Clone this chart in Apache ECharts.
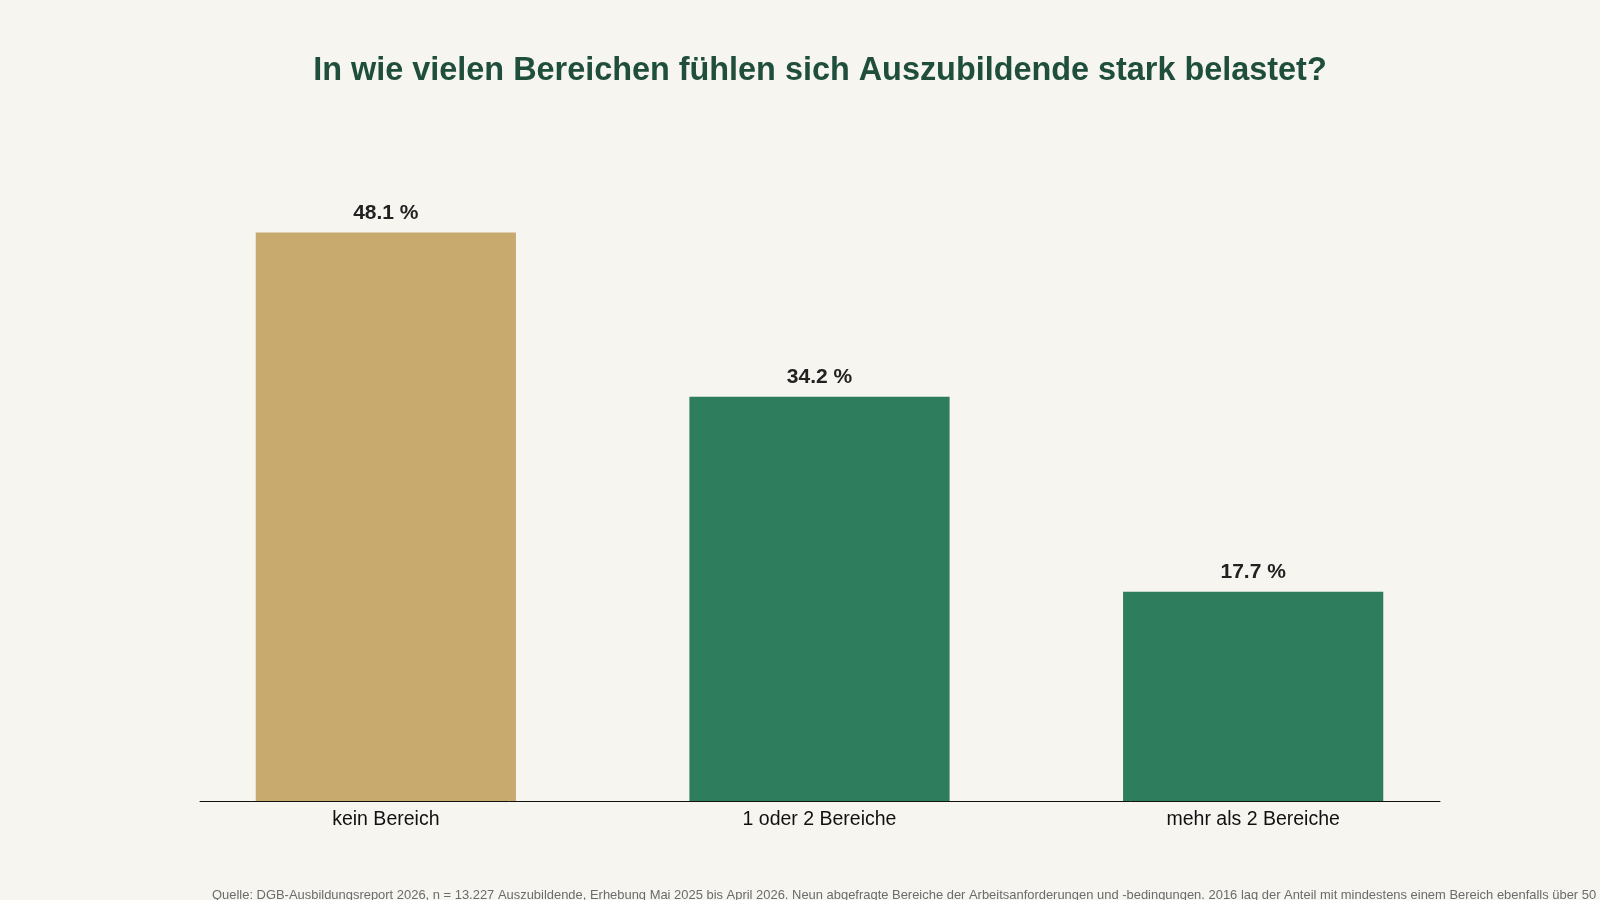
<!DOCTYPE html>
<html lang="de">
<head>
    <meta charset="UTF-8">
    <title>Belastung Auszubildende</title>
    <script src="https://cdn.jsdelivr.net/npm/echarts@6.0.0/dist/echarts.min.js"></script>
    <style>
        html, body {
            margin: 0;
            padding: 0;
            background: #f6f5f0;
        }
        #chart {
            width: 1600px;
            height: 900px;
        }
    </style>
</head>
<body>
    <div id="chart"></div>
    <script>
        var categories = ['kein Bereich', '1 oder 2 Bereiche', 'mehr als 2 Bereiche']
        var values = [48.1, 34.2, 17.7]
        var barColors = ['#c8a96e', '#2e7d5d', '#2e7d5d']

        var titleText = 'In wie vielen Bereichen fühlen sich Auszubildende stark belastet?'
        var sourceText = 'Quelle: DGB-Ausbildungsreport 2026, n = 13.227 Auszubildende, Erhebung Mai 2025 bis April 2026. Neun abgefragte Bereiche der Arbeitsanforderungen und -bedingungen. 2016 lag der Anteil mit mindestens einem Bereich ebenfalls über 50'

        var chart = echarts.init(document.getElementById('chart'))

        var barData = values.map(function (v, i) {
            return { value: v, itemStyle: { color: barColors[i] } }
        })

        // grid 0 holds the bars, grid 1 only draws the (shorter) baseline
        chart.setOption({
            backgroundColor: '#f6f5f0',
            textStyle: { fontFamily: 'Liberation Sans, Arial, sans-serif' },
            title: [
                {
                    text: titleText,
                    left: 815,
                    top: 50,
                    textAlign: 'center',
                    textStyle: {
                        color: '#1f4e3d',
                        fontSize: 32.4,
                        fontWeight: 'bold',
                        fontFamily: 'Liberation Sans, Arial, sans-serif'
                    }
                },
                {
                    text: sourceText,
                    left: 207,
                    top: 884,
                    textStyle: {
                        color: '#6b6b6b',
                        fontSize: 12.95,
                        fontWeight: 'normal',
                        fontFamily: 'Liberation Sans, Arial, sans-serif'
                    }
                }
            ],
            grid: [
                { left: 169, right: 130, top: 151, bottom: 99 },
                { left: 200, right: 160, top: 151, bottom: 99 }
            ],
            xAxis: [
                {
                    type: 'category',
                    gridIndex: 0,
                    data: categories,
                    axisLine: { show: false },
                    axisTick: { show: false },
                    axisLabel: {
                        color: '#111',
                        fontSize: 19.5,
                        margin: 9
                    }
                },
                {
                    type: 'category',
                    gridIndex: 1,
                    data: [],
                    axisLine: { lineStyle: { color: '#111', width: 1 } },
                    axisTick: { show: false },
                    axisLabel: { show: false }
                }
            ],
            yAxis: [
                { type: 'value', gridIndex: 0, min: 0, max: 55, show: false },
                { type: 'value', gridIndex: 1, min: 0, max: 55, show: false }
            ],
            series: [
                {
                    type: 'bar',
                    xAxisIndex: 0,
                    yAxisIndex: 0,
                    data: barData,
                    barWidth: '60%',
                    z: 3,
                    label: {
                        show: true,
                        position: 'top',
                        distance: 9,
                        color: '#222',
                        fontSize: 21,
                        fontWeight: 'bold',
                        formatter: function (p) {
                            return p.value.toFixed(1) + ' %'
                        }
                    }
                }
            ]
        })
    </script>
</body>
</html>
